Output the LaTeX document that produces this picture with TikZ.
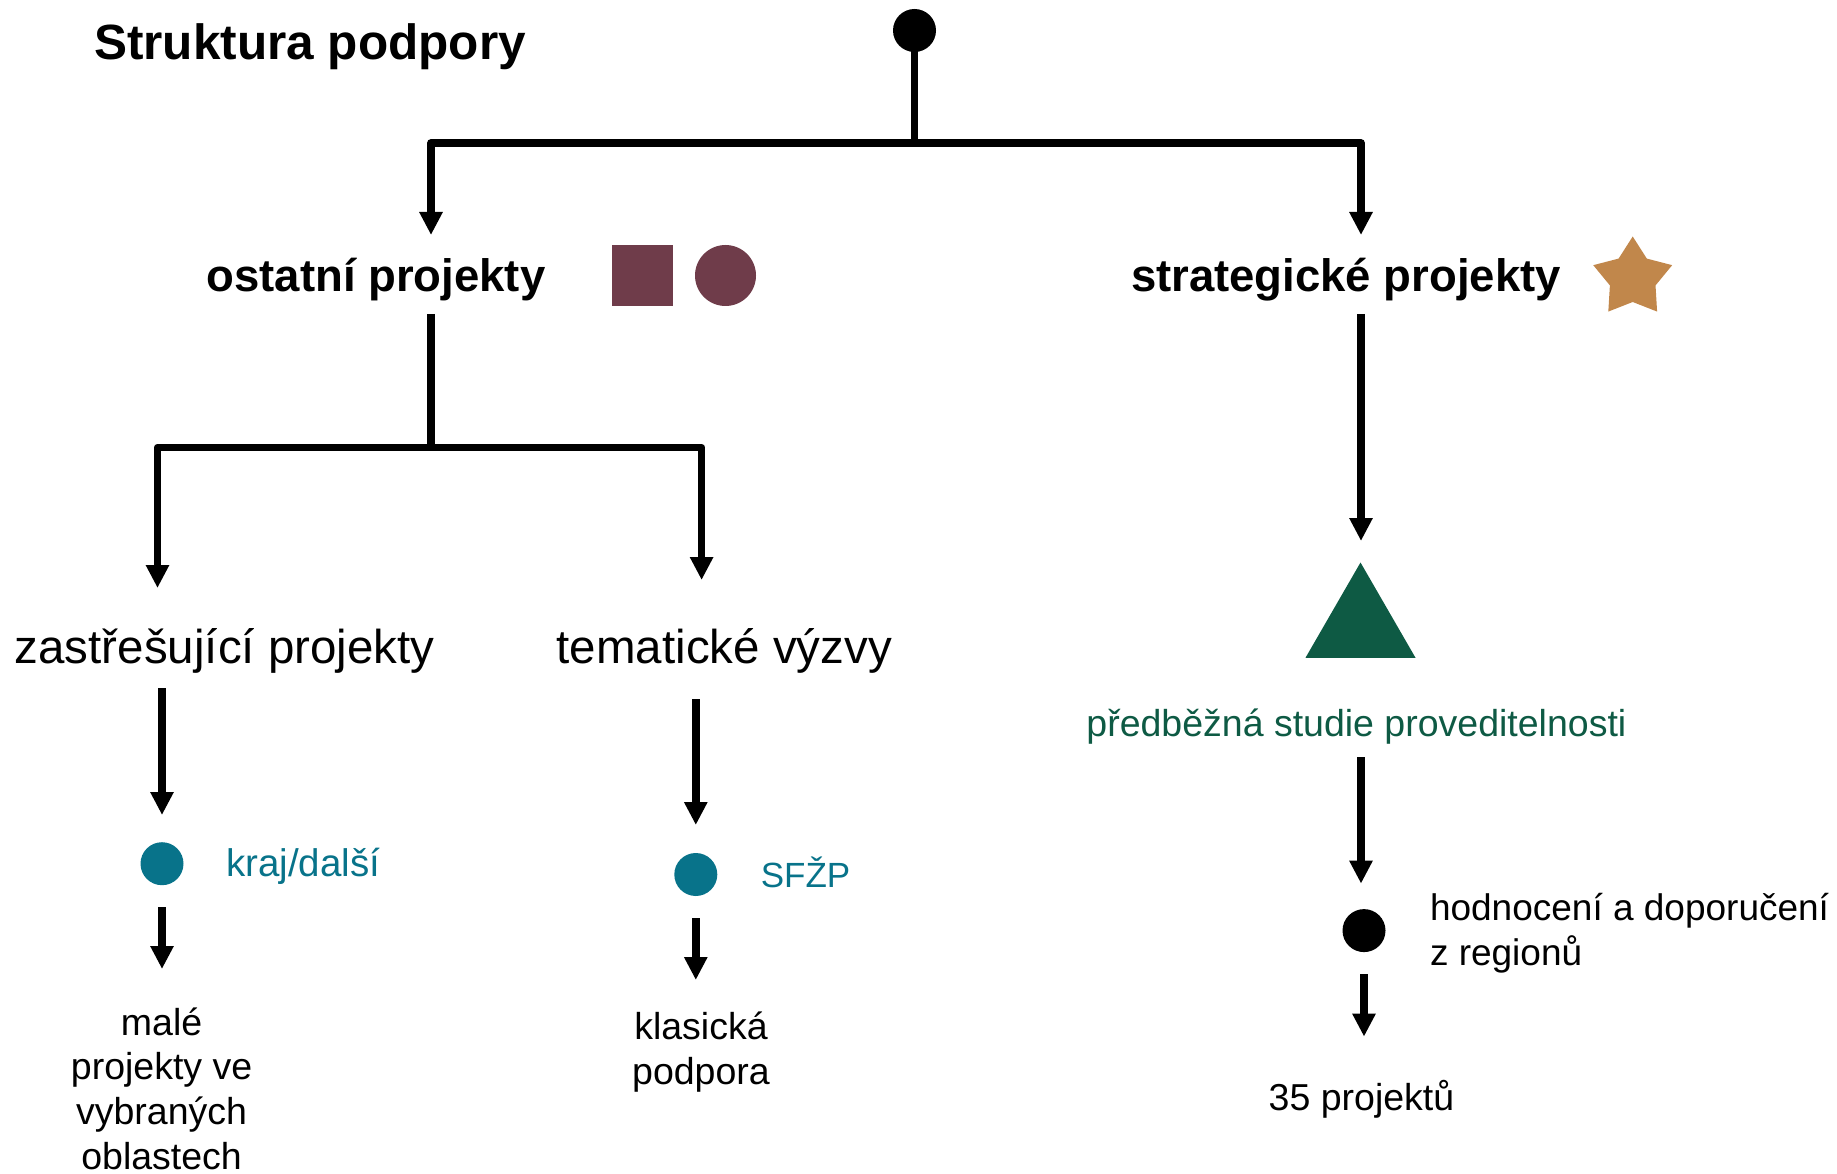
\documentclass[tikz,border=0pt]{standalone}
\usepackage{fontspec}
\setmainfont{Liberation Sans}
\usetikzlibrary{arrows.meta,shapes.geometric}
\definecolor{maroonc}{HTML}{6F3C4A}
\definecolor{starc}{HTML}{C1874B}
\definecolor{dgreen}{HTML}{0E5A44}
\definecolor{tealc}{HTML}{08738A}
\tikzset{
  conn/.style={line width=7.5pt, draw=black, line join=round},
  arr/.style={conn, -{Triangle[width=22pt,length=23pt]}},
  dotm/.style={circle, inner sep=0pt, minimum size=43pt},
  headtxt/.style={font=\fontsize{45.5}{54}\selectfont\bfseries, inner sep=0pt, anchor=base},
  bigtxt/.style={font=\fontsize{47.5}{56}\selectfont, inner sep=0pt, anchor=base},
  smalltxt/.style={font=\fontsize{37.5}{44.8}\selectfont, inner sep=0pt, anchor=base},
}
\begin{document}
\begin{tikzpicture}[x=1pt,y=-1pt]
\useasboundingbox (0,0) rectangle (1837,1174);
% title
\node[font=\fontsize{49.5}{58}\selectfont\bfseries, inner sep=0pt, anchor=base west] (title) at (94,59.3) {Struktura podpory};
% top dot and first split
\node[dotm, fill=black] (top) at (914.5,30.5) {};
\coordinate (j1) at (914.5,143);
\coordinate (t1) at (431,235);
\coordinate (t2) at (1361,235);
\draw[conn] (top.center) -- (j1);
\draw[arr] (j1) -| (t1);
\draw[arr] (j1) -| (t2);
% level 1
\node[headtxt] (ost) at (376,291.7) {ostatní projekty};
\node[headtxt] (str) at (1346,291.7) {strategické projekty};
\node[rectangle, fill=maroonc, inner sep=0pt, minimum size=61pt] (sq) at (642.5,275.5) {};
\node[circle, fill=maroonc, inner sep=0pt, minimum size=61pt] (ci) at (725.5,275.5) {};
\node[star, star points=5, star point ratio=1.73, fill=starc, inner sep=0pt, minimum size=83pt] (st) at (1632.7,278) {};
% left split
\coordinate (s1) at (431,314);
\coordinate (j2) at (431,447.5);
\coordinate (t3) at (157.5,588);
\coordinate (t4) at (701.6,580);
\draw[conn] (s1) -- (j2);
\draw[arr] (j2) -| (t3);
\draw[arr] (j2) -| (t4);
% level 2
\node[bigtxt] (zast) at (224.7,663) {zastřešující projekty};
\node[bigtxt] (tem) at (724.3,663) {tematické výzvy};
% left column
\coordinate (a1s) at (162,688);
\coordinate (a1e) at (162,815);
\draw[arr] (a1s) -- (a1e);
\node[dotm, fill=tealc] (dl) at (162,863.7) {};
\node[smalltxt, anchor=base west, text=tealc, font=\fontsize{38.5}{45}\selectfont] (kraj) at (226,876.7) {kraj/další};
\coordinate (a2s) at (162,907);
\coordinate (a2e) at (162,969);
\draw[arr] (a2s) -- (a2e);
\node[smalltxt, align=center] (male) at (161.6,1169.5) {malé\\projekty ve\\vybraných\\oblastech};
% middle column
\coordinate (b1s) at (695.8,699);
\coordinate (b1e) at (695.8,825);
\draw[arr] (b1s) -- (b1e);
\node[dotm, fill=tealc] (dm) at (695.8,874.5) {};
\node[smalltxt, anchor=base west, text=tealc, font=\fontsize{35}{42}\selectfont] (sfzp) at (760.6,887.3) {SFŽP};
\coordinate (b2s) at (695.8,918);
\coordinate (b2e) at (695.8,980);
\draw[arr] (b2s) -- (b2e);
\node[smalltxt, align=center] (klas) at (701,1084) {klasická\\podpora};
% right column
\coordinate (c1s) at (1361,314);
\coordinate (c1e) at (1361,541);
\draw[arr] (c1s) -- (c1e);
\node[regular polygon, regular polygon sides=3, fill=dgreen, inner sep=0pt, minimum size=127pt] (tri) at (1360.5,626) {};
\node[smalltxt, text=dgreen] (pred) at (1356.4,736) {předběžná studie proveditelnosti};
\coordinate (c2s) at (1361,757);
\coordinate (c2e) at (1361,883.6);
\draw[arr] (c2s) -- (c2e);
\node[dotm, fill=black] (dr) at (1364,930.6) {};
\node[smalltxt, anchor=base west, align=left, font=\fontsize{37}{45.5}\selectfont] (hod) at (1429.8,965.5) {hodnocení a doporučení\\z regionů};
\coordinate (c3s) at (1364,974);
\coordinate (c3e) at (1364,1036.6);
\draw[arr] (c3s) -- (c3e);
\node[smalltxt] (p35) at (1361.5,1110) {35 projektů};
\end{tikzpicture}
\end{document}
